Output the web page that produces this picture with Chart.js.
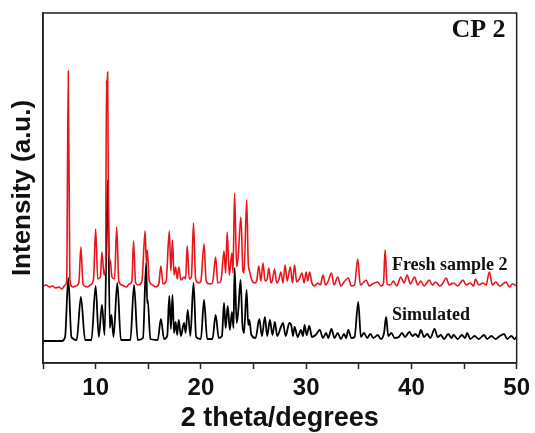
<!DOCTYPE html>
<html>
<head>
<meta charset="utf-8">
<script src="https://cdn.jsdelivr.net/npm/chart.js@4.4.0/dist/chart.umd.min.js"></script>
<style>
  html, body { margin: 0; padding: 0; background: #fff; }
  #wrap { width: 535px; height: 433px; position: relative; }
</style>
</head>
<body>
<div id="wrap"><canvas id="xrd"></canvas></div>
<script>
// 2 theta values and intensities (a.u.)
const simX = [5.0, 6.8, 7.1, 7.4, 7.7, 8.2, 8.6, 9.0, 9.6, 10.0, 10.3, 10.6, 10.85, 11.15, 11.35, 11.5, 11.7, 12.06, 12.4, 13.3,
  13.65, 14.0, 14.5, 14.8, 14.9, 14.95, 15.2, 15.9, 16.2, 16.5, 16.8, 17.0, 17.15, 17.3, 17.45, 17.6, 17.75, 17.9, 18.1, 18.4,
  18.55, 18.75, 19.0, 19.3, 19.55, 20.0, 20.3, 20.6, 21.1, 21.4, 21.7, 22.0, 22.2, 22.35, 22.55, 22.75, 22.95, 23.1, 23.2, 23.4,
  23.55, 23.77, 23.95, 24.1, 24.34, 24.5, 24.6, 24.8, 25.2, 25.55, 25.8, 26.08, 26.3, 26.56, 26.8, 27.03, 27.25, 27.6, 27.8, 28.05,
  28.4, 28.6, 28.75, 28.9, 29.2, 29.5, 29.7, 29.85, 30.05, 30.3, 30.55, 30.9, 31.3, 31.6, 31.9, 32.1, 32.4, 32.7, 33.0, 33.3,
  33.6, 33.8, 34.0, 34.3, 34.6, 34.95, 35.2, 35.5, 35.8, 36.1, 36.4, 36.8, 37.1, 37.4, 37.6, 37.8, 38.1, 38.4, 38.8, 39.1,
  39.4, 39.8, 40.1, 40.4, 40.65, 40.9, 41.2, 41.5, 41.8, 42.2, 42.5, 42.8, 43.1, 43.5, 43.8, 44.0, 44.4, 44.8, 45.1, 45.3,
  45.6, 46.0, 46.4, 46.9, 47.2, 47.6, 48.0, 48.4, 48.8, 49.1, 49.5, 49.8, 50.0];
const simY = [22, 22, 26, 85, 26, 23, 66, 23, 23, 77, 26, 58, 28, 183, 35, 48, 26, 80, 23, 23,
  78, 23, 25, 100, 60, 63, 24, 23, 44, 24, 27, 67, 34, 68, 30, 41, 28, 43, 27, 40,
  30, 53, 27, 80, 26, 24, 63, 24, 24, 48, 25, 27, 60, 35, 57, 33, 51, 35, 95, 40,
  52, 83, 38, 30, 73, 38, 43, 28, 25, 44, 27, 46, 27, 43, 28, 41, 27, 36, 40, 27,
  40, 37, 27, 36, 26, 33, 27, 38, 28, 37, 26, 28, 33, 25, 30, 25, 34, 25, 30, 24,
  29, 25, 33, 25, 26, 61, 26, 30, 25, 29, 25, 28, 24, 30, 46, 27, 30, 25, 26, 30,
  26, 31, 27, 29, 26, 33, 26, 29, 25, 34, 26, 28, 24, 29, 25, 28, 24, 28, 25, 30,
  24, 27, 24, 28, 24, 27, 24, 27, 29, 24, 27, 24, 26];

const freshX = [5.0, 5.3, 5.6, 5.9, 6.2, 6.5, 6.8, 7.1, 7.25, 7.4, 7.55, 7.8, 8.1, 8.4, 8.6, 8.8, 9.2, 9.5, 9.8, 10.0,
  10.2, 10.45, 10.6, 10.8, 10.95, 11.03, 11.08, 11.14, 11.25, 11.4, 11.55, 11.8, 12.0, 12.2, 12.5, 12.9, 13.2, 13.45, 13.6, 13.8,
  14.1, 14.4, 14.7, 14.82, 14.9, 15.1, 15.4, 15.7, 16.0, 16.2, 16.4, 16.7, 17.0, 17.15, 17.3, 17.45, 17.6, 17.75, 17.9, 18.1,
  18.4, 18.55, 18.7, 18.9, 19.1, 19.3, 19.5, 19.8, 20.0, 20.3, 20.5, 20.8, 21.1, 21.4, 21.6, 21.9, 22.2, 22.35, 22.5, 22.7,
  22.95, 23.05, 23.2, 23.4, 23.55, 23.8, 24.0, 24.1, 24.35, 24.5, 24.6, 24.8, 25.1, 25.3, 25.5, 25.7, 25.9, 26.1, 26.3, 26.45,
  26.65, 26.8, 27.0, 27.2, 27.4, 27.6, 27.8, 28.0, 28.2, 28.5, 28.7, 28.9, 29.1, 29.35, 29.6, 29.8, 30.0, 30.15, 30.33, 30.55,
  30.8, 31.1, 31.35, 31.6, 31.85, 32.1, 32.4, 32.65, 33.0, 33.3, 33.6, 34.0, 34.3, 34.6, 34.9, 35.15, 35.4, 35.7, 36.0, 36.3,
  36.8, 37.1, 37.35, 37.5, 37.7, 38.0, 38.3, 38.6, 39.0, 39.3, 39.6, 39.9, 40.3, 40.6, 40.9, 41.2, 41.7, 42.0, 42.3, 42.7,
  43.0, 43.3, 43.6, 44.0, 44.4, 44.9, 45.2, 45.6, 45.9, 46.1, 46.4, 46.8, 47.1, 47.4, 47.7, 48.0, 48.4, 48.7, 49.0, 49.3,
  49.6, 50.0];
const freshY = [77, 78, 76, 77, 75, 76, 74, 78, 82, 292, 84, 76, 77, 80, 116, 79, 76, 78, 84, 134,
  84, 86, 111, 88, 96, 283, 270, 291, 110, 102, 86, 84, 136, 82, 78, 76, 79, 82, 122, 80,
  78, 82, 132, 100, 113, 82, 78, 76, 79, 97, 79, 82, 132, 92, 123, 88, 96, 84, 96, 83,
  86, 84, 117, 84, 86, 140, 84, 80, 82, 119, 82, 79, 80, 106, 80, 82, 112, 90, 131, 88,
  110, 90, 170, 96, 108, 146, 92, 90, 163, 100, 93, 84, 80, 82, 97, 82, 100, 82, 84, 95,
  80, 83, 94, 80, 83, 91, 80, 98, 82, 96, 80, 98, 81, 84, 90, 80, 91, 82, 91, 80,
  77, 80, 78, 88, 78, 82, 90, 78, 86, 77, 81, 85, 77, 78, 104, 78, 80, 83, 77, 79,
  81, 77, 80, 113, 79, 78, 82, 77, 86, 80, 88, 79, 86, 78, 82, 77, 83, 78, 81, 77,
  80, 85, 78, 80, 77, 83, 78, 80, 77, 84, 78, 80, 78, 91, 78, 81, 77, 79, 81, 76,
  79, 77];

const xTicks = [10, 20, 30, 40, 50];
const seriesNames = ['Fresh sample 2', 'Simulated'];

const toPoints = (xs, ys) => xs.map((x, i) => ({ x: x, y: ys[i] }));

// text labels inside the plot + the closing frame on top/right
const framePlugin = {
  id: 'frame',
  afterDraw(chart) {
    const { ctx, chartArea: a, scales } = chart;
    const xs = scales.x, ys = scales.y;
    ctx.save();
    ctx.strokeStyle = '#222';
    ctx.lineWidth = 1.5;
    ctx.strokeRect(a.left, a.top, a.right - a.left, a.bottom - a.top);

    ctx.fillStyle = '#111';
    ctx.textBaseline = 'alphabetic';
    ctx.font = 'bold 26px "Liberation Serif", "DejaVu Serif", serif';
    ctx.textAlign = 'right';
    ctx.fillText('CP 2', xs.getPixelForValue(48.95), ys.getPixelForValue(326));

    ctx.font = 'bold 18px "Liberation Serif", "DejaVu Serif", serif';
    ctx.textAlign = 'left';
    ctx.fillText(seriesNames[0], xs.getPixelForValue(38.15), ys.getPixelForValue(93));
    ctx.fillText(seriesNames[1], xs.getPixelForValue(38.15), ys.getPixelForValue(43));
    ctx.restore();
  }
};

new Chart(document.getElementById('xrd'), {
  type: 'line',
  data: {
    datasets: [
      {
        label: seriesNames[0],
        data: toPoints(freshX, freshY),
        borderColor: '#e8141b',
        borderWidth: 1.6,
        pointRadius: 0,
        cubicInterpolationMode: 'monotone'
      },
      {
        label: seriesNames[1],
        data: toPoints(simX, simY),
        borderColor: '#000',
        borderWidth: 1.8,
        pointRadius: 0,
        cubicInterpolationMode: 'monotone'
      }
    ]
  },
  options: {
    responsive: true,
    maintainAspectRatio: false,
    animation: false,
    layout: { padding: { top: 13, right: 17, left: 0, bottom: 0 } },
    plugins: {
      legend: { display: false },
      tooltip: { enabled: false }
    },
    scales: {
      x: {
        type: 'linear',
        min: 5,
        max: 50,
        afterFit: s => { s.height = 70; },
        afterBuildTicks: s => {
          s.ticks = [5, 10, 15, 20, 25, 30, 35, 40, 45, 50].map(v => ({ value: v }));
        },
        ticks: {
          autoSkip: false,
          maxRotation: 0,
          padding: 5,
          color: '#111',
          font: { family: '"Liberation Sans", Arial, sans-serif', size: 24, weight: 'bold' },
          callback: v => (xTicks.includes(v) ? String(v) : '')
        },
        grid: {
          drawOnChartArea: false,
          drawTicks: true,
          tickLength: 6,
          tickWidth: 1.5,
          tickColor: '#222'
        },
        border: { display: true, color: '#222', width: 1.5 },
        title: {
          display: true,
          text: '2 theta/degrees',
          color: '#111',
          padding: 0,
          font: { family: '"Liberation Sans", Arial, sans-serif', size: 27, weight: 'bold', lineHeight: '28px' }
        }
      },
      y: {
        min: 0,
        max: 350,
        afterFit: s => { s.width = 43; },
        ticks: { display: false },
        grid: { display: false },
        border: { display: true, color: '#222', width: 1.5 },
        title: {
          display: true,
          text: 'Intensity (a.u.)',
          color: '#111',
          padding: 0,
          font: { family: '"Liberation Sans", Arial, sans-serif', size: 26, weight: 'bold', lineHeight: '46px' }
        }
      }
    }
  },
  plugins: [framePlugin]
});
</script>
</body>
</html>
